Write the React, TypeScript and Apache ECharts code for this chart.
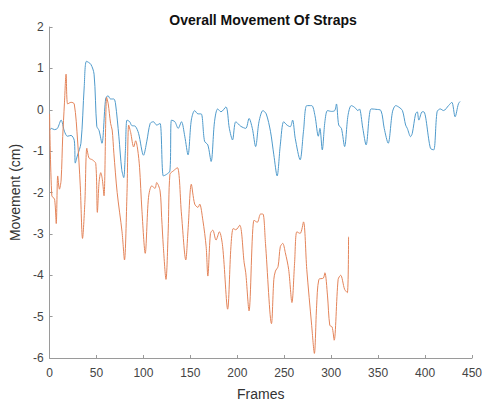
import React, { useEffect, useRef } from "react";
import * as echarts from "echarts";

// Blue series: [frame, movement cm]
const blueFrames = [0, 1.8, 5.3, 8.4, 12.3, 15.8, 19, 22.9, 26.3, 27.4, 29.5, 33.4, 36.9, 39.3, 43.9, 47.4, 50.3, 52.7, 55.8, 59.7, 62.2, 65, 68.5, 70.3, 73.8, 76.9, 79, 80.8, 82.5, 85.4, 87.5, 91.4, 94.8, 100.1, 103.6, 107.2, 110.6, 114.1, 117.7, 121.2, 124.7, 128.2, 129.9, 133.5, 137, 140.5, 144, 147.5, 151, 154.6, 158.1, 161.5, 165.1, 168.6, 172.1, 175.7, 179.1, 182.6, 187.9, 191.5, 194.9, 198.4, 203.7, 209, 212.5, 216, 219.5, 223.1, 227.3, 230.8, 235.3, 238.9, 242.4, 245.8, 249.4, 252.9, 256.4, 258.9, 261.7, 266.9, 270.5, 274, 279.2, 282.7, 286.3, 288, 290.5, 293.3, 296.1, 300.3, 303.8, 305.6, 308, 310.9, 314.3, 317.9, 321.4, 324.9, 328.5, 330.1, 333.7, 337.2, 342.5, 347.7, 353, 356.5, 360.7, 365.3, 368.8, 372.3, 375.9, 379.3, 381.1, 384.6, 386.4, 389.9, 391.7, 393.4, 396.9, 398.6, 405.7, 409.2, 412.8, 416.2, 419.7, 425, 428.5, 432, 435.5, 437.3];
const blueValues = [-0.5, -0.45, -0.48, -0.45, -0.25, -0.52, -0.64, -0.62, -0.74, -1.29, -1.12, -0.81, 0.55, 1.17, 1.1, 0.86, -0.4, -0.5, -0.81, 0.26, 0.34, 0.26, 0.26, 0.14, -0.64, -1.45, -1.64, -0.98, -0.25, -0.29, -0.38, -0.4, -0.57, -1.1, -0.76, -0.33, -0.29, -0.37, -0.33, -1.6, -1.56, -1.48, -0.25, -0.29, -0.45, -0.29, -0.64, -1.09, -0.25, -0.02, -0.1, -0.1, -0.76, -0.85, -1.25, -0.29, 0.02, -0.05, 0.07, -0.45, -0.73, -0.29, -0.4, -0.45, -0.21, -0.45, -0.89, -0.29, -0.02, -0.1, -0.52, -1.09, -1.6, -0.85, -0.29, -0.37, -0.41, -0.25, -0.69, -1.21, -0.52, 0.1, 0.1, -0.14, -0.64, -0.45, -0.97, -0.29, -0.02, -0.04, -0.02, 0.14, -0.37, -0.45, -0.89, -0.14, 0.1, 0.06, -0.02, 0.02, -0.45, -0.85, 0.02, 0.01, -0.02, -0.45, -0.81, -0.05, 0.1, 0.06, -0.02, -0.37, -0.45, -0.65, -0.57, -0.1, -0.05, -0.25, -0.05, -0.05, -0.93, -0.97, -0.05, 0.02, -0.02, 0.1, 0.18, -0.17, 0.14, 0.2];

// Orange series: [frame, movement cm]
const orangeFrames = [0, 2.4, 5.3, 7.1, 8.7, 10.5, 12.3, 14, 15.8, 17.6, 19.3, 22.9, 26.3, 29.8, 32.7, 35.1, 37.6, 39.7, 42.1, 45.6, 49.2, 50.9, 52.7, 54.5, 56.2, 58, 60.8, 62.5, 65, 66.7, 68.5, 72, 77.2, 79.8, 82.5, 84.3, 86.4, 89.6, 91.7, 93.8, 95.9, 98.3, 101.9, 105.4, 108.9, 112.4, 114.1, 117.7, 119.4, 121.2, 124, 126.4, 128.2, 131.7, 136.2, 140.5, 145.1, 147.5, 151, 154.6, 158.1, 159.9, 163.3, 166.8, 168.6, 171.4, 173.9, 177.3, 180.9, 184.4, 189.7, 193.2, 195.7, 198.4, 202.6, 207.3, 209, 212.5, 217.8, 221.3, 224.8, 227.3, 230, 236.4, 238.9, 240.6, 243.4, 245.8, 248.4, 251.1, 254.7, 258.2, 261, 263.4, 266.9, 270.5, 274, 279.2, 282.1, 284.5, 286.9, 291.6, 293.3, 296.1, 298.5, 301, 303.2, 307.4, 310.1, 314.3, 317.2, 318.5];
const orangeValues = [-0.1, -2.08, -2.16, -2.75, -1.6, -1.92, -1.7, -0.65, 0.14, 0.86, 0.14, 0.18, 0.14, -0.73, -1.84, -3.11, -2.24, -0.93, -1.17, -1.21, -1.3, -2.48, -1.76, -1.52, -1.68, -2.08, 0.3, 0.14, -0.33, -0.49, -1.05, -2.0, -2.95, -3.63, -2.0, -0.37, -0.55, -0.9, -0.75, -0.95, -1.4, -2.4, -3.47, -2.12, -1.84, -1.9, -1.76, -1.96, -2.6, -3.31, -4.1, -2.91, -1.56, -1.48, -1.4, -2.52, -3.63, -2.91, -1.8, -2.28, -2.36, -2.28, -2.67, -3.31, -4.02, -2.99, -2.91, -3.15, -2.95, -3.31, -4.82, -3.31, -2.87, -2.9, -2.79, -3.7, -3.94, -4.86, -2.67, -2.72, -2.52, -2.52, -3.23, -5.17, -4.1, -3.9, -3.79, -3.31, -3.23, -3.45, -3.86, -4.66, -3.71, -2.95, -2.99, -2.71, -3.86, -5.21, -5.89, -4.74, -4.1, -4.07, -3.94, -4.5, -5.21, -5.25, -5.57, -4.1, -4.0, -4.34, -4.42, -3.07];

const titleText = "Overall Movement Of Straps";
const xName = "Frames";
const yName = "Movement (cm)";

const FONT = "'Liberation Sans', Arial, sans-serif";

export default function App() {
  const ref = useRef<HTMLDivElement>(null);
  useEffect(() => {
    if (!ref.current) return;
    const chart = echarts.init(ref.current, undefined, { renderer: "svg" });
    const axisColor = "#9a9a9a";
    chart.setOption({
      animation: false,
      backgroundColor: "#ffffff",
      title: {
        text: titleText,
        left: 258,
        textAlign: "center",
        top: 8,
        textStyle: { fontFamily: FONT, fontSize: 14, fontWeight: "bold", color: "#111" },
      },
      grid: { left: 45, right: 13, top: 27, bottom: 44 },
      xAxis: {
        type: "value",
        min: 0,
        max: 450,
        interval: 50,
        name: xName,
        nameLocation: "middle",
        nameGap: 29,
        nameTextStyle: { fontFamily: FONT, fontSize: 14, color: "#333" },
        axisLine: { show: true, onZero: false, lineStyle: { color: axisColor, width: 1 } },
        axisTick: { show: true, inside: true, length: 3, lineStyle: { color: axisColor } },
        axisLabel: { fontFamily: FONT, fontSize: 12, color: "#444", margin: 9 },
        splitLine: { show: false },
      },
      yAxis: {
        type: "value",
        min: -6,
        max: 2,
        interval: 1,
        name: yName,
        nameLocation: "middle",
        nameGap: 24,
        nameTextStyle: { fontFamily: FONT, fontSize: 14, color: "#333" },
        axisLine: { show: true, onZero: false, lineStyle: { color: axisColor, width: 1 } },
        axisTick: { show: true, inside: true, length: 3, lineStyle: { color: axisColor } },
        axisLabel: { fontFamily: FONT, fontSize: 12, color: "#444", margin: 6 },
        splitLine: { show: false },
      },
      series: [
        {
          type: "line",
          data: blueFrames.map((f, i) => [f, blueValues[i]]),
          showSymbol: false,
          smooth: 0.3,
          lineStyle: { color: "#4f9acb", width: 1 },
          itemStyle: { color: "#4f9acb" },
        },
        {
          type: "line",
          data: orangeFrames.map((f, i) => [f, orangeValues[i]]),
          showSymbol: false,
          smooth: 0.3,
          lineStyle: { color: "#e3845a", width: 1 },
          itemStyle: { color: "#e3845a" },
        },
      ],
    });
    return () => chart.dispose();
  }, []);
  return (
    <div
      ref={ref}
      style={{ position: "absolute", left: 0, top: 0, width: 485, height: 406, background: "#fff" }}
    />
  );
}
